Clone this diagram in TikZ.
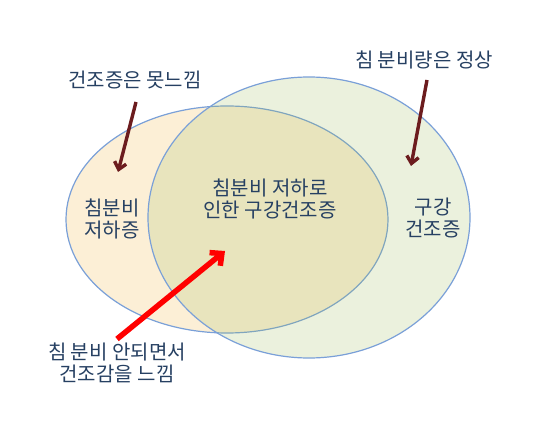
\documentclass[tikz,border=0pt]{standalone}
\usepackage{fontspec}
\setmainfont{Noto Sans CJK KR}
\usetikzlibrary{arrows.meta,shapes.geometric}
\definecolor{beige}{RGB}{252,239,214}
\definecolor{olivegreen}{RGB}{155,187,89}
\definecolor{outline}{RGB}{122,160,216}
\definecolor{txt}{RGB}{38,64,98}
\definecolor{darkred}{RGB}{108,28,30}
\tikzset{
  lbl/.style={text=txt, font=\fontsize{20}{22}\selectfont, align=center, inner sep=0pt},
  setshape/.style={ellipse, draw=outline, line width=1.2pt, inner sep=0pt},
  darrow/.style={draw=darkred, line width=3.4pt, -{Straight Barb[length=7pt,width=12pt]}},
  rarrow/.style={draw=red, line width=5.5pt, -{Straight Barb[length=9pt,width=17pt]}}
}
\begin{document}
\begin{tikzpicture}[x=1pt,y=-1pt]
\useasboundingbox (0,0) rectangle (555,422);
\fill[white] (0,0) rectangle (555,422);
\node[setshape, fill=beige, minimum width=322pt, minimum height=227pt] (L) at (227,219.5) {};
\node[setshape, fill=olivegreen, fill opacity=0.2, minimum width=322pt, minimum height=281pt] (R) at (309,217.5) {};
\node[lbl] (t1) at (135,80) {건조증은 못느낌};
\node[lbl] (t2) at (424,60) {침 분비량은 정상};
\node[lbl] (t3) at (112,219) {침분비\\저하증};
\node[lbl] (t4) at (270,199) {침분비 저하로\\인한 구강건조증};
\node[lbl] (t5) at (433,218) {구강\\건조증};
\node[lbl] (t6) at (117,363) {침 분비 안되면서\\건조감을 느낌};
\coordinate (a1s) at (136,102);
\coordinate (a1e) at (118,172);
\coordinate (a2s) at (427,80);
\coordinate (a2e) at (411,166);
\coordinate (a3s) at (117,339);
\coordinate (a3e) at (225,251);
\draw[darrow] (a1s) -- (a1e);
\draw[darrow] (a2s) -- (a2e);
\draw[rarrow] (a3s) -- (a3e);
\end{tikzpicture}
\end{document}
